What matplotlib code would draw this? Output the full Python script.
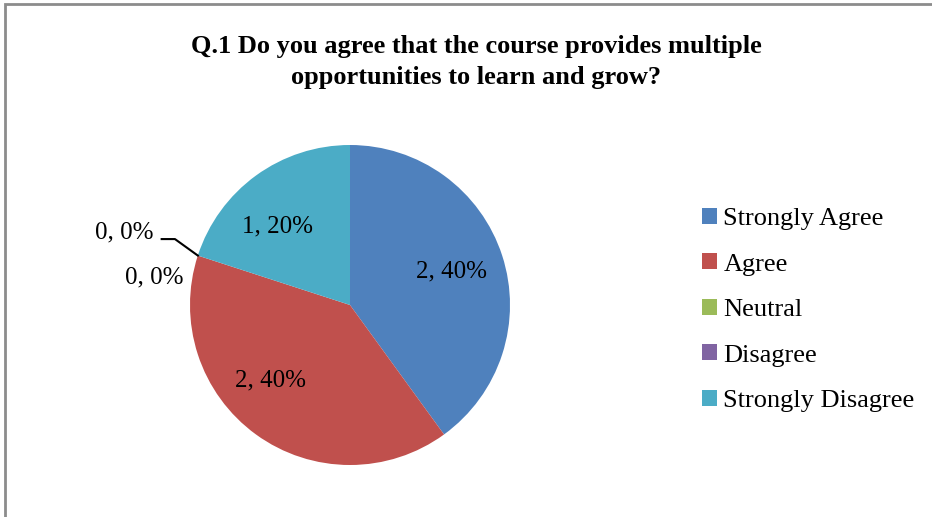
#!/usr/bin/env python3

import numpy as np
import matplotlib
matplotlib.use("Agg")
import matplotlib.pyplot as plt
from matplotlib.patches import Rectangle

# ─── Data ──────────────────────────────────────────────────────────────────────
TITLE = "Q.1 Do you agree that the course provides multiple\nopportunities to learn and grow?"
CATEGORIES = ["Strongly Agree", "Agree", "Neutral", "Disagree", "Strongly Disagree"]
COUNTS = [2, 2, 0, 0, 1]
COLORS = ["#4F81BD", "#C0504D", "#9BBB59", "#8064A2", "#4BACC6"]

# small nudges of the in-slice labels (Excel "best fit" placement)
LABEL_NUDGE = [(0.0, 0.0), (-0.10, 0.07), (0.0, 0.0), (0.0, 0.0), (-0.06, -0.05)]

plt.rcParams['font.family'] = ['Liberation Serif', 'DejaVu Serif']

W, H = 932, 517
fig = plt.figure(figsize=(W / 100, H / 100), dpi=100)

# chart frame (only top/left edges fall inside the picture)
fig.patches.append(Rectangle((5 / W, -0.05), 1.1, 1 - 4 / H + 0.05,
                             transform=fig.transFigure, fill=False,
                             ec="#8c8c8c", lw=2))

# pie axes: center (350, 305) px, radius 160 px
cx, cy, r = 350, 305, 160
ax = fig.add_axes([(cx - r) / W, (H - cy - r) / H, 2 * r / W, 2 * r / H])

total = sum(COUNTS)


def fmt(p):
    n = int(round(p * total / 100))
    return f"{n}, {p:.0f}%" if n > 0 else ""


wedges, texts, autotexts = ax.pie(COUNTS, colors=COLORS, startangle=90,
                                  counterclock=False, autopct=fmt,
                                  pctdistance=0.67, radius=1,
                                  wedgeprops=dict(linewidth=0),
                                  textprops=dict(fontsize=18))
ax.set_aspect("auto")
ax.set_xlim(-1, 1)
ax.set_ylim(-1, 1)
ax.axis("off")

for t, (dx, dy) in zip(autotexts, LABEL_NUDGE):
    x, y = t.get_position()
    t.set_position((x + dx, y + dy))

# zero-value labels sit outside, at the shared boundary angle
zero_idx = [i for i, v in enumerate(COUNTS) if v == 0]
ang = np.deg2rad(wedges[zero_idx[0]].theta1)
edge = (np.cos(ang), np.sin(ang))
# Neutral: plain label next to the edge
ax.text(edge[0] - 0.087, edge[1] - 0.134, f"{COUNTS[zero_idx[0]]}, 0%",
        ha="right", va="center", fontsize=18)
# Disagree: label with a leader line
ax.plot([edge[0], edge[0] - 0.143, edge[0] - 0.226],
        [edge[1], edge[1] + 0.103, edge[1] + 0.103], color="black", lw=1.5,
        clip_on=False)
ax.text(edge[0] - 0.274, edge[1] + 0.147, f"{COUNTS[zero_idx[1]]}, 0%",
        ha="right", va="center", fontsize=18)

fig.text(476 / W, 1 - 62 / H, TITLE, ha="center", va="center",
         fontsize=19, fontweight="bold", linespacing=1.45)

fig.legend(wedges, CATEGORIES, loc="center left",
           bbox_to_anchor=(689 / W, 1 - 310 / H), frameon=False,
           fontsize=19, handlelength=0.55, handleheight=0.55,
           handletextpad=0.25, labelspacing=0.88, borderpad=0)

fig.savefig("out.png", dpi=100)
